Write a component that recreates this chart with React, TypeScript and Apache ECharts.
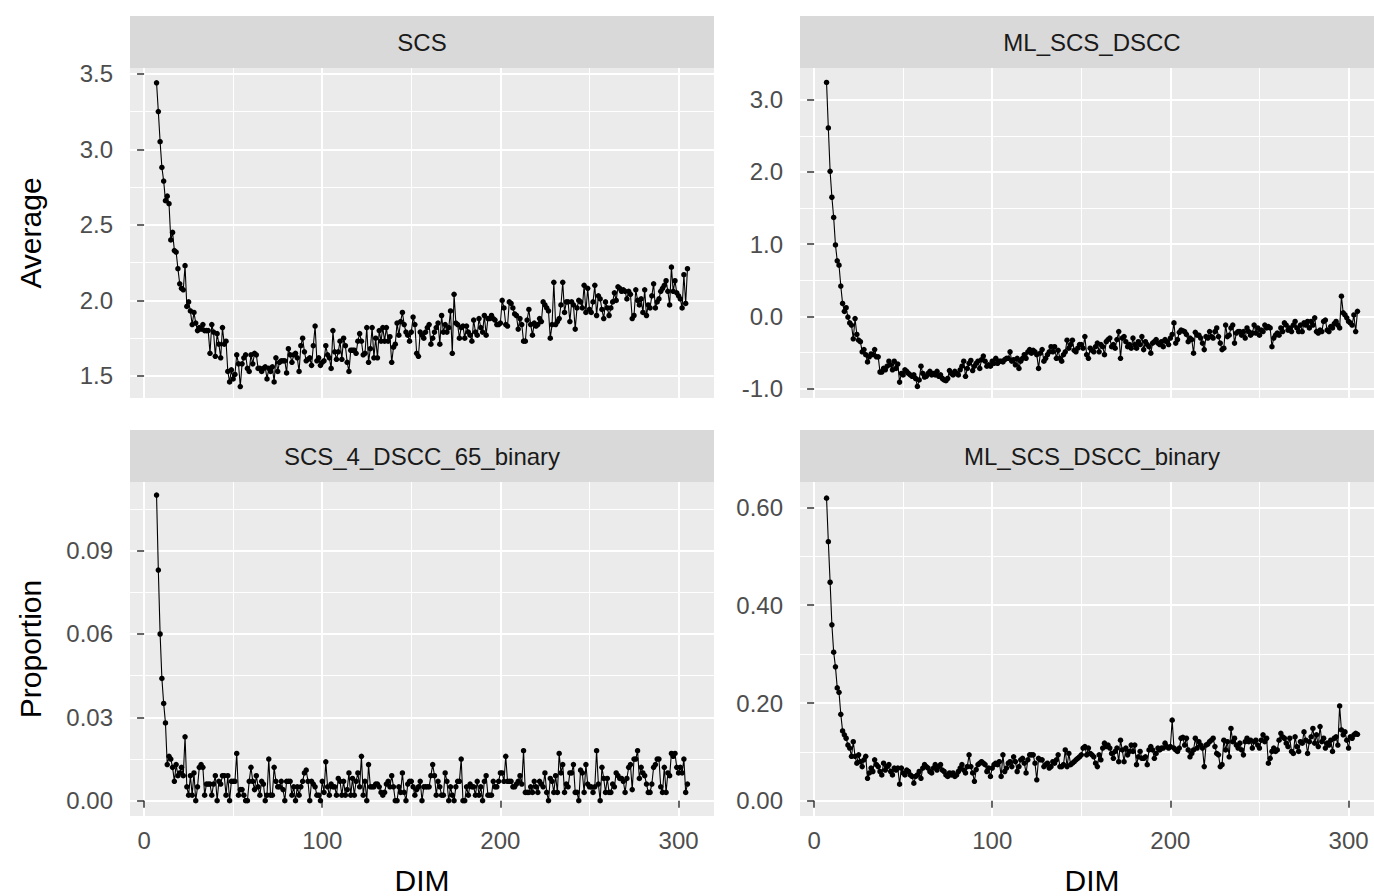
import { useEffect, useRef } from "react";
import * as echarts from "echarts";

// DIM runs from 7 to 305 (one value per DIM)
const DIM_START = 7;

const scsValues = [
  3.44, 3.25, 3.05, 2.88, 2.79, 2.66, 2.69, 2.64, 2.40, 2.45,
  2.33, 2.32, 2.21, 2.11, 2.08, 2.07, 2.23, 1.96, 1.99, 1.93,
  1.84, 1.92, 1.85, 1.80, 1.82, 1.81, 1.84, 1.80, 1.80, 1.80,
  1.65, 1.84, 1.79, 1.63, 1.78, 1.71, 1.62, 1.82, 1.71, 1.73,
  1.53, 1.46, 1.54, 1.48, 1.51, 1.64, 1.58, 1.43, 1.58, 1.62,
  1.64, 1.55, 1.53, 1.64, 1.58, 1.65, 1.64, 1.55, 1.55, 1.53,
  1.55, 1.56, 1.48, 1.55, 1.53, 1.56, 1.46, 1.62, 1.53, 1.59,
  1.60, 1.60, 1.60, 1.52, 1.68, 1.64, 1.59, 1.64, 1.65, 1.62,
  1.53, 1.70, 1.75, 1.66, 1.60, 1.61, 1.62, 1.57, 1.70, 1.83,
  1.60, 1.62, 1.57, 1.59, 1.60,
  1.70, 1.64, 1.62,
  1.55, 1.80, 1.66, 1.61, 1.66, 1.73, 1.61, 1.75, 1.70, 1.59,
  1.53, 1.67, 1.67, 1.67, 1.65, 1.73, 1.78, 1.73, 1.64, 1.65,
  1.82, 1.59, 1.68, 1.82, 1.62, 1.75, 1.62, 1.80, 1.73, 1.82,
  1.73, 1.82, 1.73, 1.76, 1.59, 1.69, 1.71, 1.85, 1.77, 1.86,
  1.92, 1.84, 1.79, 1.77, 1.73, 1.79, 1.89, 1.84, 1.65, 1.63,
  1.79, 1.77, 1.75, 1.79, 1.82, 1.84, 1.71, 1.75, 1.79, 1.82,
  1.85, 1.71, 1.90, 1.79, 1.84, 1.79, 1.82, 1.93, 1.65, 2.04,
  1.85, 1.84, 1.75, 1.82, 1.83, 1.75, 1.83, 1.79, 1.77, 1.73,
  1.87, 1.79, 1.77, 1.88, 1.82, 1.79, 1.90, 1.77, 1.88, 1.88,
  1.90, 1.88, 1.87, 1.84, 1.84, 1.85, 2.00, 1.95, 1.84, 1.83,
  1.99, 1.98, 1.95, 1.91, 1.90, 1.81, 1.88, 1.84, 1.73,
  1.73, 1.87, 1.94, 1.84, 1.77, 1.85, 1.83, 1.84, 1.88, 1.86,
  1.99, 1.97, 1.95, 1.93, 1.75, 1.84, 2.12, 1.84, 1.86, 1.88,
  1.97, 2.12, 1.92, 1.99, 1.99, 1.86, 1.99, 1.97, 1.81, 1.95,
  2.00, 1.99, 1.95, 2.10, 1.92, 2.08, 1.94, 1.92, 1.99, 2.10,
  1.90, 2.03, 2.01, 1.94, 1.88, 1.99, 1.95, 1.90, 1.95, 1.99,
  2.05, 2.00, 2.09, 2.08, 2.06, 2.07, 2.06, 2.01, 2.06, 2.04,
  1.88, 1.90, 2.07, 2.00, 1.97, 2.01, 1.92, 2.07, 1.90, 1.97,
  1.95, 2.03, 2.11, 1.95, 1.99, 2.01, 2.06, 2.08, 2.10, 2.13,
  2.06, 1.97, 2.22, 2.06, 2.13, 2.05, 2.03, 2.01, 1.95, 2.17, 1.98, 2.21,
];

const mlScsDsccValues = [
  3.24, 2.61, 2.01, 1.65, 1.37, 0.99, 0.77, 0.71, 0.42, 0.18,
  0.07, 0.12, -0.01, -0.09, -0.12, -0.31, -0.03, -0.25, -0.33, -0.35,
  -0.49, -0.46, -0.53, -0.63, -0.56, -0.52, -0.53, -0.46, -0.56, -0.56,
  -0.77, -0.77, -0.72, -0.74, -0.69, -0.62, -0.67, -0.74, -0.62, -0.72,
  -0.66, -0.91, -0.79, -0.81, -0.74, -0.76, -0.79, -0.81, -0.83, -0.81,
  -0.86, -0.97, -0.88, -0.69, -0.79, -0.84, -0.83, -0.79, -0.76, -0.81,
  -0.79, -0.81, -0.76, -0.83, -0.81, -0.86, -0.88, -0.89, -0.86, -0.75,
  -0.79, -0.81, -0.76, -0.79, -0.81, -0.74, -0.69, -0.62, -0.83, -0.72,
  -0.65, -0.61, -0.75, -0.69, -0.65, -0.62, -0.72, -0.60, -0.55, -0.62,
  -0.69, -0.67, -0.69, -0.62, -0.65, -0.58, -0.65, -0.62,
  -0.62, -0.63, -0.60, -0.58, -0.58, -0.49, -0.62, -0.60, -0.67, -0.58,
  -0.72, -0.62, -0.58, -0.53, -0.58, -0.49, -0.46, -0.51, -0.47, -0.49,
  -0.53, -0.72, -0.51, -0.46, -0.62, -0.58, -0.53, -0.49, -0.42, -0.49,
  -0.42, -0.58, -0.47, -0.58, -0.62, -0.53, -0.49, -0.33, -0.44, -0.39,
  -0.33, -0.47, -0.49, -0.44, -0.39, -0.39, -0.44, -0.28, -0.53, -0.58,
  -0.44, -0.47, -0.49, -0.42, -0.37, -0.49, -0.39, -0.42, -0.53, -0.35,
  -0.32, -0.30, -0.42, -0.39, -0.44, -0.32, -0.21, -0.58, -0.30, -0.28,
  -0.35, -0.42, -0.39, -0.44, -0.30, -0.39, -0.44, -0.35, -0.39, -0.28,
  -0.46, -0.35, -0.39, -0.42, -0.51, -0.37, -0.35, -0.32, -0.37, -0.39,
  -0.35, -0.42, -0.32, -0.35, -0.39, -0.30, -0.25, -0.09, -0.37, -0.32,
  -0.22, -0.19, -0.20, -0.21, -0.25, -0.35, -0.30, -0.32, -0.51,
  -0.22, -0.26, -0.26, -0.30, -0.37, -0.46, -0.28, -0.30, -0.21, -0.28,
  -0.30, -0.21, -0.16, -0.28, -0.37, -0.46, -0.44, -0.12, -0.28, -0.26,
  -0.16, -0.12, -0.37, -0.23, -0.21, -0.21, -0.26, -0.21, -0.30, -0.16,
  -0.21, -0.26, -0.23, -0.12, -0.23, -0.16, -0.26, -0.19, -0.21, -0.12,
  -0.16, -0.14, -0.16, -0.42, -0.30, -0.26, -0.23, -0.26, -0.16, -0.21,
  -0.09, -0.12, -0.19, -0.16, -0.21, -0.12, -0.07, -0.16, -0.21, -0.12,
  -0.21, -0.09, -0.12, -0.07, -0.16, -0.07, -0.12, -0.02, -0.21, -0.23,
  -0.19, -0.21, -0.07, -0.05, -0.19, -0.21, -0.14, -0.16, -0.10, -0.07,
  -0.12, -0.16, 0.28, 0.05, 0.02, -0.02, -0.07, -0.09, -0.12, 0.02, -0.21, 0.07,
];

const scs4BinaryValues = [
  0.110, 0.083, 0.060, 0.044, 0.035, 0.028, 0.013, 0.016, 0.015, 0.012,
  0.007, 0.013, 0.009, 0.010, 0.012, 0.009, 0.023, 0.005, 0.002, 0.009,
  0.002, 0.010, 0.000, 0.005, 0.012, 0.013, 0.012, 0.002, 0.006, 0.006,
  0.006, 0.002, 0.006, 0.009, 0.000, 0.007, 0.006, 0.009, 0.009, 0.002,
  0.009, 0.000, 0.007, 0.007, 0.007, 0.017, 0.002, 0.004, 0.004, 0.002,
  0.000, 0.000, 0.007, 0.012, 0.007, 0.004, 0.009, 0.005, 0.002, 0.007,
  0.006, 0.000, 0.002, 0.015, 0.002, 0.002, 0.012, 0.007, 0.005, 0.005,
  0.007, 0.004, 0.000, 0.007, 0.007, 0.007, 0.002, 0.005, 0.000, 0.005,
  0.002, 0.005, 0.007, 0.010, 0.011, 0.007, 0.000, 0.007, 0.006, 0.005,
  0.002, 0.002, 0.000, 0.007, 0.003,
  0.014, 0.005, 0.002,
  0.006, 0.005, 0.005, 0.002, 0.008, 0.007, 0.002, 0.007, 0.002, 0.004,
  0.010, 0.002, 0.008, 0.002, 0.007, 0.010, 0.005, 0.016, 0.002, 0.007,
  0.000, 0.013, 0.005, 0.005, 0.005, 0.006, 0.006, 0.005, 0.003, 0.002,
  0.003, 0.006, 0.007, 0.005, 0.009, 0.005, 0.000, 0.000, 0.005, 0.003,
  0.010, 0.003, 0.000, 0.006, 0.007, 0.007, 0.005, 0.002, 0.004, 0.005,
  0.007, 0.000, 0.005, 0.005, 0.005, 0.005, 0.009, 0.013, 0.009, 0.002,
  0.007, 0.005, 0.002, 0.002, 0.010, 0.007, 0.000, 0.005, 0.002, 0.000,
  0.005, 0.007, 0.007, 0.015, 0.000, 0.000, 0.005, 0.002, 0.006, 0.005,
  0.005, 0.002, 0.007, 0.002, 0.005, 0.000, 0.007, 0.009, 0.002, 0.002,
  0.002, 0.007, 0.005, 0.005, 0.007, 0.010, 0.010, 0.007, 0.016, 0.007,
  0.007, 0.007, 0.005, 0.005, 0.006, 0.007, 0.009, 0.006,
  0.018, 0.003, 0.003, 0.003, 0.005, 0.003, 0.007, 0.005, 0.003, 0.007,
  0.006, 0.005, 0.010, 0.003, 0.000, 0.008, 0.007, 0.003, 0.009, 0.003,
  0.017, 0.010, 0.013, 0.003, 0.006, 0.005, 0.010, 0.010, 0.013, 0.003,
  0.003, 0.000, 0.011, 0.010, 0.003, 0.013, 0.006, 0.005, 0.005, 0.003,
  0.005, 0.018, 0.006, 0.000, 0.012, 0.008, 0.003, 0.008, 0.003, 0.003,
  0.006, 0.005, 0.010, 0.009,
  0.008, 0.008, 0.007, 0.003, 0.008, 0.012, 0.013, 0.004, 0.015, 0.015,
  0.018, 0.008, 0.012, 0.010, 0.009, 0.006, 0.003, 0.003, 0.006, 0.012,
  0.013, 0.015, 0.015, 0.005, 0.003, 0.012, 0.003, 0.010, 0.009, 0.017,
  0.016, 0.017, 0.012, 0.010, 0.012, 0.010, 0.015, 0.003, 0.006,
];

const mlBinaryValues = [
  0.619, 0.530, 0.447, 0.360, 0.304, 0.274, 0.231, 0.222, 0.177, 0.143,
  0.135, 0.128, 0.114, 0.108, 0.091, 0.121, 0.091, 0.077, 0.094, 0.080,
  0.070, 0.084, 0.091, 0.046, 0.057, 0.067, 0.060, 0.084, 0.074, 0.070,
  0.060, 0.053, 0.077, 0.063, 0.070, 0.074, 0.060, 0.053, 0.067, 0.063,
  0.067, 0.034, 0.067, 0.057, 0.053, 0.063, 0.060, 0.053, 0.050, 0.036,
  0.050, 0.053, 0.060, 0.046, 0.067, 0.074, 0.070, 0.067, 0.060, 0.057,
  0.067, 0.074, 0.063, 0.070, 0.074, 0.063, 0.060, 0.053, 0.050, 0.057,
  0.053, 0.057, 0.050, 0.053, 0.060, 0.067, 0.074, 0.063, 0.057, 0.070,
  0.094, 0.070, 0.057, 0.040, 0.064, 0.074, 0.077, 0.080, 0.077, 0.074,
  0.060, 0.067, 0.050, 0.067, 0.074, 0.077,
  0.074, 0.080, 0.050, 0.094, 0.060, 0.067, 0.077, 0.080, 0.070, 0.090,
  0.080, 0.060, 0.070, 0.084, 0.087, 0.077, 0.057, 0.084, 0.094, 0.094,
  0.094, 0.077, 0.043, 0.087, 0.084, 0.084, 0.070, 0.074, 0.077, 0.067,
  0.070, 0.080, 0.077, 0.084, 0.094, 0.070, 0.070, 0.074, 0.104, 0.070,
  0.097, 0.074, 0.077, 0.080, 0.084, 0.087, 0.090, 0.094, 0.108, 0.111,
  0.094, 0.108, 0.097, 0.094, 0.090, 0.077, 0.070, 0.094, 0.084, 0.108,
  0.118, 0.111, 0.114, 0.108, 0.097, 0.087, 0.101, 0.108, 0.080, 0.124,
  0.104, 0.080, 0.108, 0.094, 0.101, 0.114, 0.101, 0.114, 0.074, 0.090,
  0.101, 0.087, 0.087, 0.090, 0.074, 0.104, 0.111, 0.104, 0.087, 0.097,
  0.108, 0.104, 0.108, 0.108, 0.118, 0.111, 0.108, 0.111, 0.165, 0.108,
  0.104, 0.101, 0.108, 0.128, 0.130, 0.114, 0.128, 0.104, 0.090, 0.097,
  0.104, 0.128, 0.108, 0.121, 0.114, 0.108, 0.070, 0.114, 0.116, 0.121,
  0.124, 0.128, 0.111, 0.097, 0.094, 0.070, 0.074, 0.124, 0.104, 0.121,
  0.090, 0.148, 0.121, 0.128, 0.114, 0.108, 0.118, 0.104, 0.094, 0.121,
  0.128, 0.121, 0.124, 0.108, 0.121, 0.124, 0.114, 0.108, 0.124, 0.135,
  0.121, 0.128, 0.077, 0.087, 0.101, 0.108, 0.101, 0.104, 0.124, 0.138,
  0.131, 0.128, 0.118, 0.111, 0.128, 0.101, 0.097, 0.131, 0.111, 0.101,
  0.121, 0.118, 0.141, 0.124, 0.097, 0.121, 0.131, 0.148, 0.118, 0.135,
  0.111, 0.152, 0.121, 0.128, 0.108, 0.118, 0.114, 0.124, 0.101, 0.128,
  0.131, 0.114, 0.194, 0.145, 0.135, 0.141, 0.124, 0.108, 0.131, 0.128, 0.135, 0.138, 0.136,
];

const panelTitles = ["SCS", "ML_SCS_DSCC", "SCS_4_DSCC_65_binary", "ML_SCS_DSCC_binary"];
const xTicks = [0, 100, 200, 300];
const yTicksSCS = [1.5, 2.0, 2.5, 3.0, 3.5];
const yTicksML = [-1, 0, 1, 2, 3];
const yTicksSCS4 = [0, 0.03, 0.06, 0.09];
const yTicksMLBin = [0, 0.2, 0.4, 0.6];

const FONT = "'Liberation Sans', Arial, Helvetica, sans-serif";

function pairs(vals: number[]) {
  return vals.map((v, i) => [DIM_START + i, v]);
}

export default function App() {
  const ref = useRef<HTMLDivElement>(null);

  useEffect(() => {
    if (!ref.current) return;
    const chart = echarts.init(ref.current, undefined, { renderer: "svg" });

    const PW = 584;
    const panels = [
      { left: 130, top: 68, height: 330, bottom: false, vals: scsValues, min: 1.354, max: 3.538, step: 0.5, ticks: yTicksSCS, dec: 1 },
      { left: 800, top: 68, height: 330, bottom: false, vals: mlScsDsccValues, min: -1.13, max: 3.44, step: 1, ticks: yTicksML, dec: 1 },
      { left: 130, top: 482, height: 334, bottom: true, vals: scs4BinaryValues, min: -0.0055, max: 0.1147, step: 0.03, ticks: yTicksSCS4, dec: 2 },
      { left: 800, top: 482, height: 334, bottom: true, vals: mlBinaryValues, min: -0.031, max: 0.652, step: 0.2, ticks: yTicksMLBin, dec: 2 },
    ];

    const graphics: any[] = [];
    panels.forEach((p, i) => {
      graphics.push({
        type: "rect",
        shape: { x: p.left, y: p.top - 52, width: PW, height: 52 },
        style: { fill: "#D9D9D9" },
        silent: true,
      });
      graphics.push({
        type: "text",
        x: p.left + PW / 2,
        y: p.top - 26,
        style: {
          text: panelTitles[i],
          fontSize: 24,
          fontFamily: FONT,
          fill: "#1A1A1A",
          align: "center",
          verticalAlign: "middle",
          textAlign: "center",
          textVerticalAlign: "middle",
        },
        silent: true,
      });
    });
    const axisTitles = [
      { text: "Average", x: 30, y: 233, rot: Math.PI / 2 },
      { text: "Proportion", x: 30, y: 649, rot: Math.PI / 2 },
      { text: "DIM", x: 130 + PW / 2, y: 880, rot: 0 },
      { text: "DIM", x: 800 + PW / 2, y: 880, rot: 0 },
    ];
    axisTitles.forEach((t) => {
      graphics.push({
        type: "text",
        x: t.x,
        y: t.y,
        rotation: t.rot,
        style: {
          text: t.text,
          fontSize: 30,
          fontFamily: FONT,
          fill: "#000000",
          align: "center",
          verticalAlign: "middle",
          textAlign: "center",
          textVerticalAlign: "middle",
        },
        silent: true,
      });
    });

    const option: any = {
      animation: false,
      backgroundColor: "#FFFFFF",
      grid: panels.map((p) => ({
        left: p.left,
        top: p.top,
        width: PW,
        height: p.height,
        show: true,
        backgroundColor: "#EBEBEB",
        borderWidth: 0,
        containLabel: false,
      })),
      xAxis: panels.map((p, i) => ({
        type: "value",
        gridIndex: i,
        min: -7.9,
        max: 319.9,
        minInterval: 100,
        maxInterval: 100,
        axisLine: { show: false },
        axisTick: {
          show: p.bottom,
          length: 7,
          customValues: xTicks,
          lineStyle: { color: "#333333", width: 1.5 },
        },
        axisLabel: {
          show: p.bottom,
          customValues: xTicks,
          margin: 12,
          fontSize: 24,
          fontFamily: FONT,
          color: "#4D4D4D",
        },
        splitLine: {
          show: true,
          lineStyle: { color: "#FFFFFF", width: 2 },
        },
        minorTick: { show: false, splitNumber: 2 },
        minorSplitLine: { show: true, lineStyle: { color: "#FFFFFF", width: 1 } },
      })),
      yAxis: panels.map((p, i) => ({
        type: "value",
        gridIndex: i,
        min: p.min,
        max: p.max,
        minInterval: p.step,
        maxInterval: p.step,
        axisLine: { show: false },
        axisTick: {
          show: true,
          length: 7,
          customValues: p.ticks,
          lineStyle: { color: "#333333", width: 1.5 },
        },
        axisLabel: {
          show: true,
          customValues: p.ticks,
          margin: 17,
          fontSize: 24,
          fontFamily: FONT,
          color: "#4D4D4D",
          formatter: (v: number) => v.toFixed(p.dec),
        },
        splitLine: {
          show: true,
          lineStyle: { color: "#FFFFFF", width: 2 },
        },
        minorTick: { show: false, splitNumber: 2 },
        minorSplitLine: { show: true, lineStyle: { color: "#FFFFFF", width: 1 } },
      })),
      series: panels.map((p, i) => ({
        type: "line",
        xAxisIndex: i,
        yAxisIndex: i,
        data: pairs(p.vals),
        symbol: "circle",
        symbolSize: 5.5,
        showSymbol: true,
        lineStyle: { color: "#000000", width: 1.1 },
        itemStyle: { color: "#000000" },
        emphasis: { disabled: true },
        z: 3,
      })),
      graphic: graphics,
    };

    chart.setOption(option);
    return () => chart.dispose();
  }, []);

  return (
    <div style={{ position: "absolute", left: 0, top: 0, width: 1374, height: 896, overflow: "hidden" }}>
      <div ref={ref} style={{ width: 1400, height: 896 }} />
    </div>
  );
}
